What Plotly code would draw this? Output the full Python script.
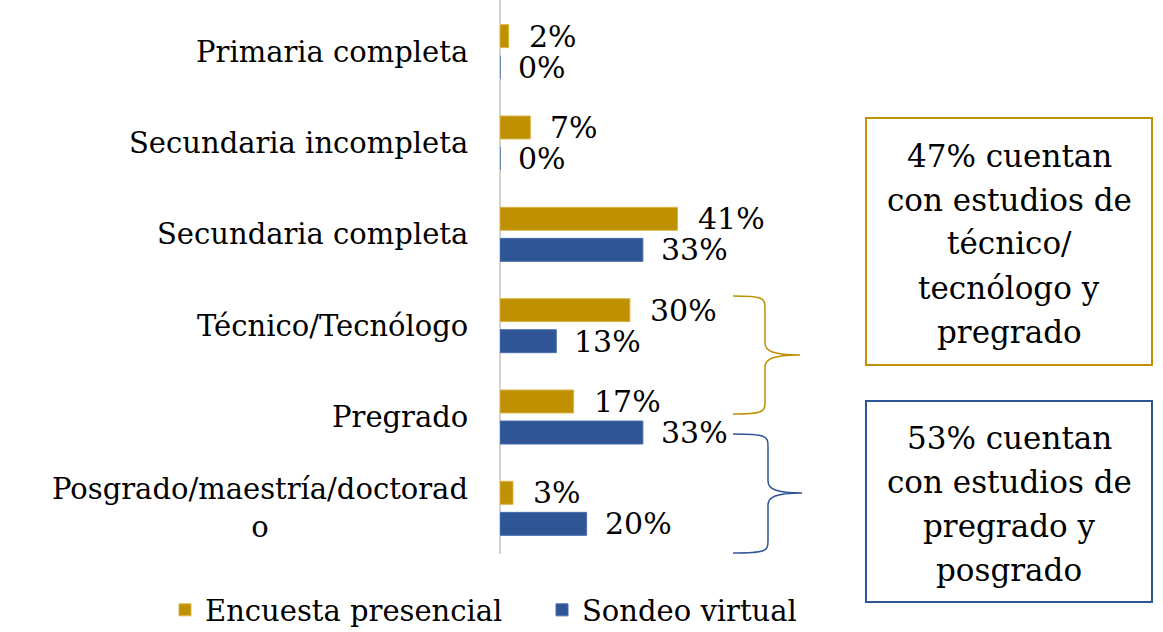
import plotly.graph_objects as go

categories = ["Primaria completa", "Secundaria incompleta", "Secundaria completa",
              "Técnico/Tecnólogo", "Pregrado", "Posgrado/maestría/doctorado"]
cat_labels = ["Primaria completa", "Secundaria incompleta", "Secundaria completa",
              "Técnico/Tecnólogo", "Pregrado", "Posgrado/maestría/doctorad<br>o"]
encuesta = [2, 7, 41, 30, 17, 3]
sondeo = [0, 0, 33, 13, 33, 20]
series_names = ["Encuesta presencial", "Sondeo virtual"]
box1_lines = ["47% cuentan", "con estudios de", "técnico/", "tecnólogo y", "pregrado"]
box2_lines = ["53% cuentan", "con estudios de", "pregrado y", "posgrado"]

GOLD = "#BF9000"
BLUE = "#2F5597"
FONT = "DejaVu Serif"

W, H = 1163, 632
L, R, T, B = 500, 3, 6, 78
PW, PH = W - L - R, H - T - B


def px(x):
    return (x - L) / PW


def py(y):
    return 1 - (y - T) / PH


fig = go.Figure()
fig.add_trace(go.Bar(y=categories, x=encuesta, orientation="h", name=series_names[0],
                     legend="legend",
                     marker=dict(color=GOLD, line=dict(color="#D9B44A", width=1))))
fig.add_trace(go.Bar(y=categories, x=sondeo, orientation="h", name=series_names[1],
                     legend="legend2",
                     marker=dict(color=BLUE, line=dict(color="#4A6FAF", width=1))))

annotations = []
for cat, lab in zip(categories, cat_labels):
    annotations.append(dict(x=0, xref="paper", y=cat, yref="y", text=lab, showarrow=False,
                            xanchor="right", xshift=-30, align="center",
                            font=dict(family=FONT, size=29, color="#000000")))
for vals, ysh, xsh in ((encuesta, 15.5, 18), (sondeo, -15.5, 16)):
    for cat, v in zip(categories, vals):
        annotations.append(dict(x=v, xref="x", y=cat, yref="y", text=f"{v}%", showarrow=False,
                                xanchor="left", xshift=xsh, yshift=ysh,
                                font=dict(family=FONT, size=30, color="#000000")))

# text boxes
boxes = [(866, 118, 1152, 365, GOLD, box1_lines), (866, 401, 1152, 602, BLUE, box2_lines)]
shapes = []
LINE_H = 44
for x0, y0, x1, y1, col, lines in boxes:
    shapes.append(dict(type="rect", xref="paper", yref="paper", x0=px(x0), x1=px(x1),
                       y0=py(y1), y1=py(y0), line=dict(color=col, width=2),
                       fillcolor="rgba(0,0,0,0)"))
    cy = (y0 + y1) / 2 + 2
    n = len(lines)
    for i, t in enumerate(lines):
        yy = cy + (i - (n - 1) / 2) * LINE_H
        annotations.append(dict(x=px((x0 + x1) / 2), y=py(yy), xref="paper", yref="paper",
                                text=t, showarrow=False, xanchor="center", yanchor="middle",
                                font=dict(family=FONT, size=31, color="#000000")))


def brace(xl, ytop, xv, xtip, ytip, ybot, col):
    pts = lambda x, y: f"{px(x):.5f},{py(y):.5f}"
    d = (f"M{pts(xl, ytop)} C{pts(xv - 2, ytop)} {pts(xv, ytop + 2)} {pts(xv, ytop + 12)} "
         f"L{pts(xv, ytip - 12)} C{pts(xv, ytip - 4)} {pts(xv + 8, ytip)} {pts(xtip, ytip)} "
         f"C{pts(xv + 8, ytip)} {pts(xv, ytip + 4)} {pts(xv, ytip + 12)} "
         f"L{pts(xv, ybot - 12)} C{pts(xv, ybot - 2)} {pts(xv - 2, ybot)} {pts(xl, ybot)}")
    return dict(type="path", xref="paper", yref="paper", path=d,
                line=dict(color=col, width=1.5))


shapes.append(brace(733, 296, 765, 800, 355, 414, GOLD))
shapes.append(brace(733, 434, 768, 802, 493, 553, BLUE))
# vertical axis line
shapes.append(dict(type="line", xref="paper", yref="paper", x0=0, x1=0, y0=py(554), y1=py(0),
                   line=dict(color="#A6A6A6", width=1), layer="below"))

legend_common = dict(orientation="h", xanchor="left", y=py(610), yanchor="middle",
                     font=dict(family=FONT, size=29, color="#000000"), itemwidth=30,
                     bgcolor="rgba(0,0,0,0)", borderwidth=0)

fig.update_layout(
    width=W, height=H,
    margin=dict(l=L, r=R, t=T, b=B, autoexpand=False),
    paper_bgcolor="white", plot_bgcolor="white",
    barmode="group", bargap=0.32, bargroupgap=0.26,
    xaxis=dict(range=[0, PW / 4.33], showticklabels=False, showgrid=False, zeroline=False,
               showline=False),
    yaxis=dict(categoryorder="array", categoryarray=categories, autorange="reversed",
               showticklabels=False, showgrid=False, zeroline=False, showline=False,
               ticks=""),
    showlegend=True,
    legend=dict(x=px(165), **legend_common),
    legend2=dict(x=px(542), **legend_common),
    annotations=annotations,
    shapes=shapes,
)

fig.write_html("out.html", config={"displayModeBar": False},
               post_script="document.body.style.margin='0px';")
